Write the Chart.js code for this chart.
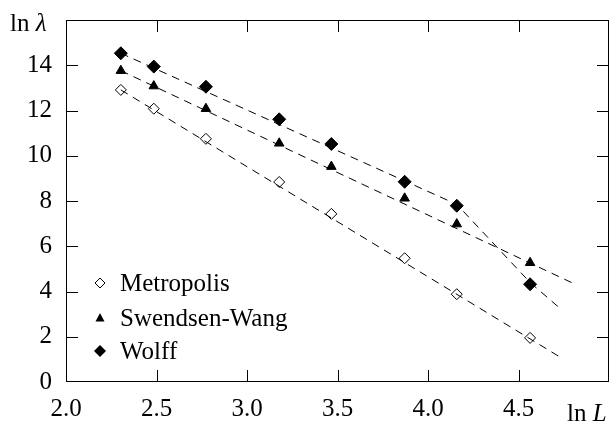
<!DOCTYPE html>
<html>
<head>
<meta charset="utf-8">
<script src="https://cdn.jsdelivr.net/npm/chart.js@4/dist/chart.umd.min.js"></script>
<style>
  html, body { margin: 0; padding: 0; background: #fff; }
</style>
</head>
<body>
<canvas id="chart" width="611" height="428"></canvas>
<script>
// data
const lnL = [2.303, 2.485, 2.773, 3.178, 3.466, 3.871, 4.159, 4.564];
const metropolis = [12.91, 12.08, 10.75, 8.84, 7.43, 5.47, 3.88, 1.95];
const swendsenWang = [13.76, 13.08, 12.08, 10.55, 9.52, 8.12, 6.98, 5.27];
const wolff = [14.53, 13.94, 13.05, 11.61, 10.52, 8.85, 7.79, 4.32];

// dashed fit lines
const metroFitX = [2.303, 4.74];
const metroFitY = [12.91, 1.05];
const swFitX = [2.303, 4.80];
const swFitY = [13.76, 4.37];
const wolffFitX = [2.303, 4.159, 4.564, 4.74];
const wolffFitY = [14.53, 7.85, 4.40, 3.18];

const xTicks = [2.5, 3.0, 3.5, 4.0, 4.5];
const yTicks = [2, 4, 6, 8, 10, 12, 14];
const xLabels = [2.0, 2.5, 3.0, 3.5, 4.0, 4.5];
const yLabels = [0, 2, 4, 6, 8, 10, 12, 14];
const legendNames = ['Metropolis', 'Swendsen-Wang', 'Wolff'];

const FONT = '"Liberation Serif", "DejaVu Serif", serif';

function pts(xs, ys) {
    return xs.map((x, i) => ({ x: x, y: ys[i] }));
}

function fitLine(xs, ys) {
    return {
        type: 'line', data: pts(xs, ys), borderColor: '#000', borderWidth: 1,
        borderDash: [8, 6], pointRadius: 0, fill: false, tension: 0
    };
}

function noPad(s) {
    s.paddingTop = 0; s.paddingBottom = 0; s.paddingLeft = 0; s.paddingRight = 0;
}

// frame, inward ticks on all sides, axis names and the legend
const decor = {
    id: 'decor',
    beforeDatasetsDraw(chart) {
        const { ctx, chartArea: a, scales } = chart;
        ctx.save();
        ctx.strokeStyle = '#000';
        ctx.lineWidth = 1;
        ctx.strokeRect(a.left + 0.5, a.top + 0.5, a.right - a.left - 1, a.bottom - a.top - 1);
        ctx.beginPath();
        xTicks.forEach(v => {
            const x = Math.round(scales.x.getPixelForValue(v)) + 0.5;
            ctx.moveTo(x, a.bottom); ctx.lineTo(x, a.bottom - 12);
            ctx.moveTo(x, a.top); ctx.lineTo(x, a.top + 12);
        });
        yTicks.forEach(v => {
            const y = Math.round(scales.y.getPixelForValue(v)) + 0.5;
            ctx.moveTo(a.left, y); ctx.lineTo(a.left + 12, y);
            ctx.moveTo(a.right, y); ctx.lineTo(a.right - 12, y);
        });
        ctx.stroke();
        ctx.restore();
    },
    afterDraw(chart) {
        const { ctx } = chart;
        ctx.save();
        ctx.fillStyle = '#000';
        ctx.textBaseline = 'alphabetic';
        // axis names
        ctx.font = '25px ' + FONT;
        ctx.fillText('ln ', 10, 31);
        let w = ctx.measureText('ln ').width;
        ctx.font = 'italic 25px ' + FONT;
        ctx.fillText('λ', 10 + w, 31);
        ctx.font = '25px ' + FONT;
        ctx.fillText('ln ', 567, 421);
        w = ctx.measureText('ln ').width;
        ctx.font = 'italic 25px ' + FONT;
        ctx.fillText('L', 567 + w, 421);

        // legend
        const rows = [283, 318, 351];
        const sx = 100;
        ctx.font = '25px ' + FONT;
        ctx.textBaseline = 'middle';
        ctx.lineWidth = 1;
        ctx.strokeStyle = '#000';
        rows.forEach((y, i) => {
            ctx.beginPath();
            if (i === 0) {
                ctx.moveTo(sx, y - 5); ctx.lineTo(sx + 5, y); ctx.lineTo(sx, y + 5); ctx.lineTo(sx - 5, y);
                ctx.closePath(); ctx.stroke();
            } else if (i === 1) {
                ctx.moveTo(sx, y - 5); ctx.lineTo(sx + 4.5, y + 3.5); ctx.lineTo(sx - 4.5, y + 3.5);
                ctx.closePath(); ctx.fill();
            } else {
                ctx.moveTo(sx, y - 6); ctx.lineTo(sx + 6, y); ctx.lineTo(sx, y + 6); ctx.lineTo(sx - 6, y);
                ctx.closePath(); ctx.fill();
            }
            ctx.fillText(legendNames[i], 120, y + 1);
        });
        ctx.restore();
    }
};

new Chart(document.getElementById('chart'), {
    type: 'scatter',
    data: {
        datasets: [
            fitLine(metroFitX, metroFitY),
            fitLine(swFitX, swFitY),
            fitLine(wolffFitX, wolffFitY),
            {
                label: 'Metropolis', data: pts(lnL, metropolis), pointStyle: 'rectRot',
                pointRadius: 5.5, backgroundColor: 'rgba(0,0,0,0)', borderColor: '#000', borderWidth: 1
            },
            {
                label: 'Swendsen-Wang', data: pts(lnL, swendsenWang), pointStyle: 'triangle',
                pointRadius: 5.5, backgroundColor: '#000', borderColor: '#000', borderWidth: 1
            },
            {
                label: 'Wolff', data: pts(lnL, wolff), pointStyle: 'rectRot',
                pointRadius: 6.5, backgroundColor: '#000', borderColor: '#000', borderWidth: 1
            }
        ]
    },
    options: {
        responsive: false,
        animation: false,
        devicePixelRatio: 1,
        layout: { autoPadding: false, padding: { top: 20, right: 2, left: 0, bottom: 0 } },
        plugins: { legend: { display: false }, tooltip: { enabled: false } },
        scales: {
            x: {
                type: 'linear', min: 2, max: 5,
                grid: { display: false, drawTicks: false },
                border: { display: false },
                afterFit: s => { s.height = 46; noPad(s); },
                afterBuildTicks: s => { s.ticks = xLabels.map(v => ({ value: v })); },
                ticks: {
                    color: '#000', padding: 12, maxRotation: 0,
                    font: { family: FONT, size: 25 },
                    callback: v => v.toFixed(1)
                }
            },
            y: {
                type: 'linear', min: 0, max: 16,
                grid: { display: false, drawTicks: false },
                border: { display: false },
                afterFit: s => { s.width = 66; noPad(s); },
                afterBuildTicks: s => { s.ticks = yLabels.map(v => ({ value: v })); },
                ticks: {
                    color: '#000', padding: 14,
                    font: { family: FONT, size: 25 },
                    callback: v => String(v)
                }
            }
        }
    },
    plugins: [decor]
});
</script>
</body>
</html>
